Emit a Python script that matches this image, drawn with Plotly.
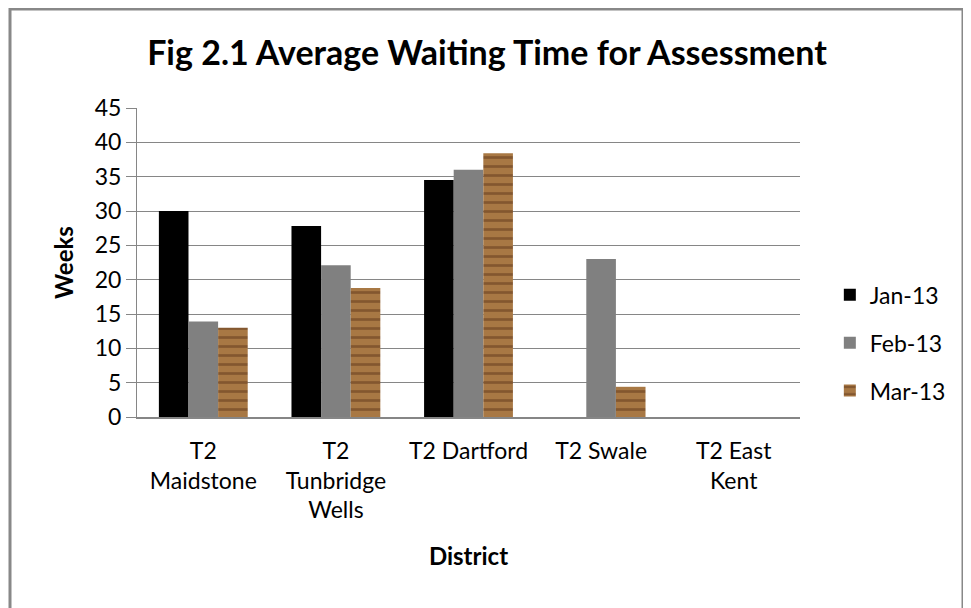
import plotly.graph_objects as go

districts = ["T2<br>Maidstone", "T2<br>Tunbridge<br>Wells", "T2 Dartford", "T2 Swale", "T2 East<br>Kent"]
jan_13 = [30.0, 27.8, 34.5, 0, 0]
feb_13 = [13.9, 22.1, 36.0, 23.0, 0]
mar_13 = [13.0, 18.8, 38.4, 4.4, 0]

FONT = "Lato"
GRID = "#868686"

# page body has an 8px margin, so figure is laid out in page coords minus 8
W, H = 963, 600
L, T = 129, 100
PW, PH = 663, 309

fig = go.Figure()
fig.add_trace(go.Bar(name="Jan-13", x=districts, y=jan_13, marker=dict(color="#000000", line=dict(width=0)), legendgroup="a"))
fig.add_trace(go.Bar(name="Feb-13", x=districts, y=feb_13, marker=dict(color="#808080", line=dict(width=0)), legendgroup="b"))
fig.add_trace(go.Bar(name="Mar-13", x=districts, y=mar_13,
                     marker=dict(color="#A0703F", line=dict(width=0),
                                 pattern=dict(shape="-", fgcolor="#5E3519", bgcolor="#A87844", size=9, solidity=0.3)),
                     legendgroup="c"))

fig.update_layout(
    width=W, height=H,
    margin=dict(l=L, r=W - L - PW, t=T, b=H - T - PH),
    paper_bgcolor="white", plot_bgcolor="white",
    barmode="group", bargap=0.33, bargroupgap=0,
    font=dict(family=FONT, size=23, color="#000000"),
    title=dict(text="<b>Fig 2.1 Average Waiting Time for Assessment</b>", x=(487 - 8) / W, xanchor="center",
               y=1 - (53 - 8) / H, yanchor="middle", font=dict(family=FONT, size=34, color="#000000")),
    legend=dict(x=1.045, xanchor="left", y=0.24, yanchor="middle", tracegroupgap=15,
                font=dict(family=FONT, size=23), bgcolor="rgba(0,0,0,0)", itemwidth=30),
    xaxis=dict(showline=True, linecolor=GRID, linewidth=2, ticks="", showgrid=False,
               ticklabelstandoff=12, tickfont=dict(family=FONT, size=23),
               title=dict(text="<b>District</b>", font=dict(family=FONT, size=24), standoff=26)),
    yaxis=dict(range=[0, 45], dtick=5, showgrid=True, gridcolor=GRID, gridwidth=1,
               showline=True, linecolor=GRID, linewidth=1, ticks="outside", ticklen=10, tickcolor=GRID,
               tickfont=dict(family=FONT, size=23), zeroline=False,
               title=dict(text="<b>Weeks</b>", font=dict(family=FONT, size=24), standoff=14)),
    shapes=[dict(type="rect", xref="paper", yref="paper",
                 x0=(2 - L) / PW, x1=(955 - L) / PW,
                 y0=-(H - T - PH + 30) / PH, y1=(T + PH - 1) / PH,
                 line=dict(color="#888888", width=3))],
)

fig.write_html("out.html")
